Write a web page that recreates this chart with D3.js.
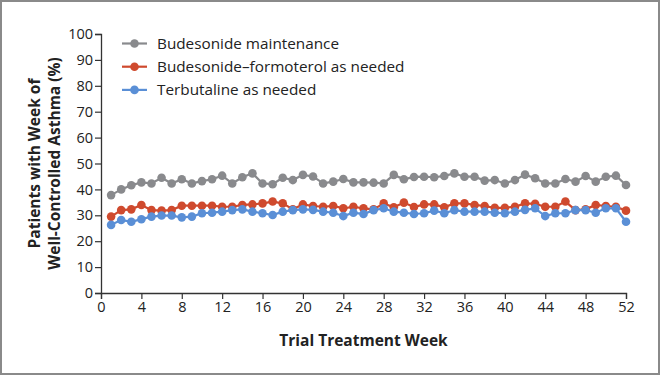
<!DOCTYPE html>
<html lang="en">
<head>
<meta charset="UTF-8">
<title>Well-Controlled Asthma</title>
<style>
  html, body { margin: 0; padding: 0; background: #fff; }
  svg { display: block; font-family: "Open Sans", "Liberation Sans", sans-serif; }
</style>
</head>
<body>
<div id="my_dataviz"></div>
<script src="https://d3js.org/d3.v7.min.js"></script>
<script>
// weeks 1..52
var weeks = d3.range(1, 53);

var budMaint = [37.8, 40.0, 41.6, 42.7, 42.3, 44.5, 42.3, 43.9, 42.3, 43.2,
                43.9, 45.3, 42.3, 44.7, 46.2, 42.3, 42.0, 44.5, 43.6, 45.6,
                45.0, 42.3, 43.0, 44.0, 42.7, 42.7, 42.6, 42.3, 45.6, 43.9,
                44.8, 44.9, 44.7, 45.2, 46.2, 44.9, 44.9, 43.4, 43.6, 42.3,
                43.6, 45.7, 44.3, 42.3, 42.3, 44.0, 43.0, 45.2, 43.0, 44.9,
                45.3, 41.7];

var budForm = [29.5, 32.0, 32.3, 34.0, 32.0, 31.8, 32.0, 33.7, 33.7, 33.7,
               33.7, 33.3, 33.3, 34.0, 34.2, 34.6, 35.3, 34.6, 32.3, 34.2,
               33.6, 33.3, 33.6, 32.7, 33.3, 32.7, 32.3, 34.6, 33.1, 34.9,
               33.2, 34.2, 34.2, 33.1, 34.6, 34.6, 34.0, 33.6, 32.9, 32.9,
               33.3, 34.6, 34.4, 33.3, 33.3, 35.3, 32.0, 32.3, 34.0, 33.6,
               33.3, 31.8];

var terbut = [26.3, 28.2, 27.5, 28.5, 29.5, 29.9, 29.9, 29.2, 29.5, 30.8,
              31.0, 31.4, 32.0, 32.3, 31.4, 30.8, 30.1, 31.4, 32.0, 32.3,
              32.1, 31.4, 31.0, 29.7, 31.0, 30.5, 32.0, 32.7, 31.4, 31.0,
              30.5, 30.8, 31.8, 30.8, 32.0, 31.4, 31.4, 31.4, 31.0, 30.8,
              31.4, 32.1, 32.7, 29.7, 30.8, 30.8, 32.0, 32.0, 31.0, 32.7,
              32.7, 27.5];

var seriesNames = ["Budesonide maintenance", "Budesonide\u2013formoterol as needed", "Terbutaline as needed"];
var seriesColors = ["#898a8d", "#cf4a2e", "#5a8fd6"];
var seriesData = [budMaint, budForm, terbut];

var xTicks = d3.range(0, 53, 4);
var yTicks = d3.range(0, 101, 10);

var W = 660, H = 375;
var svg = d3.select("#my_dataviz").append("svg")
  .attr("width", W).attr("height", H);

// frame
svg.append("rect")
  .attr("x", 1).attr("y", 1).attr("width", W - 2).attr("height", H - 2)
  .attr("fill", "none").attr("stroke", "#8a8a8a").attr("stroke-width", 2);

var x = d3.scaleLinear().domain([0, 52]).range([101, 626]);
var y = d3.scaleLinear().domain([0, 100]).range([293, 34]);

// axes
var yAxis = svg.append("g")
  .attr("transform", "translate(" + x(0) + ",0)")
  .call(d3.axisLeft(y).tickValues(yTicks).tickSize(6).tickPadding(2));
var xAxis = svg.append("g")
  .attr("transform", "translate(0," + y(0) + ")")
  .call(d3.axisBottom(x).tickValues(xTicks).tickSize(6).tickPadding(3));

[xAxis, yAxis].forEach(function(a) {
  a.select(".domain").attr("stroke", "#333").attr("stroke-width", 1.3);
  a.selectAll(".tick line").attr("stroke", "#333").attr("stroke-width", 1.2);
  a.selectAll(".tick text")
    .attr("fill", "#222")
    .style("font-size", "14.5px")
    .style("font-family", "\"Open Sans\", \"Liberation Sans\", sans-serif");
});

// axis titles
svg.append("text")
  .attr("x", (x(0) + x(52)) / 2).attr("y", 346)
  .attr("text-anchor", "middle")
  .attr("font-size", "15.5px").attr("font-weight", "bold").attr("fill", "#222")
  .text("Trial Treatment Week");

var yl = svg.append("text")
  .attr("transform", "translate(40," + y(50) + ") rotate(-90)")
  .attr("text-anchor", "middle")
  .attr("font-size", "15.5px").attr("font-weight", "bold").attr("fill", "#222");
yl.append("tspan").attr("x", 0).attr("dy", 0).text("Patients with Week of");
yl.append("tspan").attr("x", 0).attr("dy", 20).text("Well-Controlled Asthma (%)");

// lines + points
var line = d3.line()
  .x(function(d, i) { return x(weeks[i]); })
  .y(function(d) { return y(d); });

seriesData.forEach(function(vals, k) {
  var g = svg.append("g");
  g.append("path")
    .datum(vals)
    .attr("d", line)
    .attr("fill", "none")
    .attr("stroke", seriesColors[k])
    .attr("stroke-width", 2.2);
  g.selectAll("circle")
    .data(vals)
    .enter()
    .append("circle")
      .attr("cx", function(d, i) { return x(weeks[i]); })
      .attr("cy", function(d) { return y(d); })
      .attr("r", 4.3)
      .attr("fill", seriesColors[k]);
});

// legend
var legend = svg.append("g");
seriesNames.forEach(function(name, k) {
  var ly = 43.5 + k * 23.2;
  legend.append("line")
    .attr("x1", 122).attr("x2", 147).attr("y1", ly).attr("y2", ly)
    .attr("stroke", seriesColors[k]).attr("stroke-width", 2.2);
  legend.append("circle")
    .attr("cx", 134.5).attr("cy", ly).attr("r", 4.3)
    .attr("fill", seriesColors[k]);
  legend.append("text")
    .attr("x", 157).attr("y", ly + 5.5)
    .attr("font-size", "15.3px").attr("fill", "#222")
    .text(name);
});
</script>
</body>
</html>
